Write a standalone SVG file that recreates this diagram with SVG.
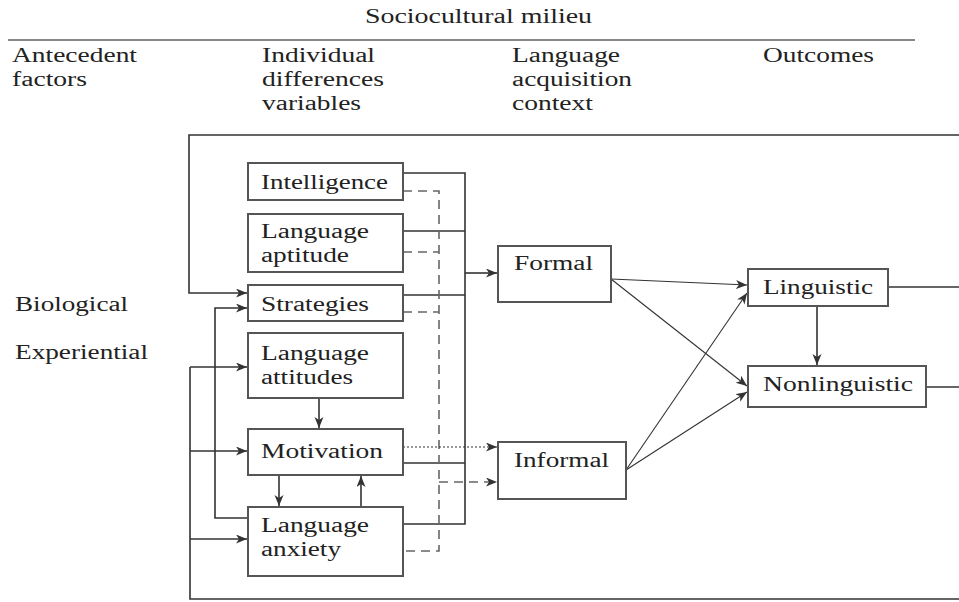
<svg xmlns="http://www.w3.org/2000/svg" width="959" height="602" viewBox="0 0 959 602">
<style>
text{font-family:"Liberation Serif","Times New Roman",serif;font-size:20px;fill:#222}
.box{fill:#fff;stroke:#555;stroke-width:2}
.ln{fill:none;stroke:#333;stroke-width:1.6}
.thin{fill:none;stroke:#333;stroke-width:1.1}
.dash{fill:none;stroke:#666;stroke-width:1.6;stroke-dasharray:9 6}
.dot{fill:none;stroke:#333;stroke-width:1.2;stroke-dasharray:2 2}
</style>
<defs>
<marker id="ah" markerUnits="userSpaceOnUse" markerWidth="12" markerHeight="10" refX="11" refY="4.5" orient="auto">
<path d="M0,0 L11,4.5 L0,9 L3,4.5 z" fill="#333"/>
</marker>
</defs>
<rect width="959" height="602" fill="#fff"/>
<g id="header">
<text x="365" y="23" textLength="227" lengthAdjust="spacingAndGlyphs">Sociocultural milieu</text>
<line x1="8" y1="40" x2="915" y2="40" stroke="#888" stroke-width="2"/>
<text x="12" y="62" textLength="125" lengthAdjust="spacingAndGlyphs">Antecedent</text>
<text x="12" y="86" textLength="75" lengthAdjust="spacingAndGlyphs">factors</text>
<text x="262" y="62" textLength="113" lengthAdjust="spacingAndGlyphs">Individual</text>
<text x="262" y="86" textLength="122" lengthAdjust="spacingAndGlyphs">differences</text>
<text x="262" y="110" textLength="99" lengthAdjust="spacingAndGlyphs">variables</text>
<text x="512" y="62" textLength="108" lengthAdjust="spacingAndGlyphs">Language</text>
<text x="512" y="86" textLength="120" lengthAdjust="spacingAndGlyphs">acquisition</text>
<text x="512" y="110" textLength="81" lengthAdjust="spacingAndGlyphs">context</text>
<text x="763" y="62" textLength="111" lengthAdjust="spacingAndGlyphs">Outcomes</text>
</g>
<g id="antecedents">
<text x="15" y="311" textLength="113" lengthAdjust="spacingAndGlyphs">Biological</text>
<text x="15" y="359" textLength="133" lengthAdjust="spacingAndGlyphs">Experiential</text>
</g>
<g id="connectors">
<!-- outer loops -->
<polyline class="ln" points="959,135 189,135 189,293 247,293" marker-end="url(#ah)"/>
<polyline class="ln" points="959,599 190,599 190,367"/>
<line class="ln" x1="190" y1="367" x2="247" y2="367" marker-end="url(#ah)"/>
<line class="ln" x1="190" y1="451" x2="247" y2="451" marker-end="url(#ah)"/>
<line class="ln" x1="190" y1="539" x2="247" y2="539" marker-end="url(#ah)"/>
<!-- anxiety to strategies -->
<polyline class="ln" points="248,518 215,518 215,308 247,308" marker-end="url(#ah)"/>
<!-- solid bus -->
<polyline class="ln" points="403,173 465,173 465,524 403,524"/>
<line class="ln" x1="403" y1="231" x2="465" y2="231"/>
<line class="ln" x1="403" y1="295" x2="465" y2="295"/>
<line class="ln" x1="403" y1="463" x2="465" y2="463"/>
<line class="ln" x1="465" y1="273" x2="497" y2="273" marker-end="url(#ah)"/>
<!-- dashed bus -->
<polyline class="dash" points="403,191 439,191 439,551 403,551"/>
<line class="dash" x1="403" y1="252" x2="439" y2="252"/>
<line class="dash" x1="403" y1="312" x2="439" y2="312"/>
<line class="dash" x1="439" y1="482" x2="497" y2="482" marker-end="url(#ah)"/>
<!-- dotted -->
<line class="dot" x1="403" y1="447" x2="497" y2="447" marker-end="url(#ah)"/>
<!-- vertical arrows among ID variables -->
<line class="ln" x1="319" y1="398" x2="319" y2="428" marker-end="url(#ah)"/>
<line class="ln" x1="279" y1="475" x2="279" y2="506" marker-end="url(#ah)"/>
<line class="ln" x1="361" y1="507" x2="361" y2="476" marker-end="url(#ah)"/>
<!-- context to outcomes -->
<line class="thin" x1="611" y1="279" x2="747" y2="285" marker-end="url(#ah)"/>
<line class="thin" x1="611" y1="279" x2="747" y2="386" marker-end="url(#ah)"/>
<line class="thin" x1="626" y1="470" x2="747" y2="293" marker-end="url(#ah)"/>
<line class="thin" x1="626" y1="470" x2="747" y2="392" marker-end="url(#ah)"/>
<line class="ln" x1="817" y1="306" x2="817" y2="365" marker-end="url(#ah)"/>
<line class="ln" x1="888" y1="287" x2="959" y2="287"/>
<line class="ln" x1="926" y1="387" x2="959" y2="387"/>
</g>
<g id="intelligence"><rect class="box" x="248" y="163" width="155" height="37"/><text x="261" y="189" textLength="127" lengthAdjust="spacingAndGlyphs">Intelligence</text></g>
<g id="aptitude"><rect class="box" x="248" y="214" width="155" height="58"/><text x="261" y="238" textLength="108" lengthAdjust="spacingAndGlyphs">Language</text><text x="261" y="262" textLength="88" lengthAdjust="spacingAndGlyphs">aptitude</text></g>
<g id="strategies"><rect class="box" x="248" y="285" width="155" height="36"/><text x="261" y="311" textLength="108" lengthAdjust="spacingAndGlyphs">Strategies</text></g>
<g id="attitudes"><rect class="box" x="248" y="333" width="155" height="65"/><text x="261" y="360" textLength="108" lengthAdjust="spacingAndGlyphs">Language</text><text x="261" y="384" textLength="92" lengthAdjust="spacingAndGlyphs">attitudes</text></g>
<g id="motivation"><rect class="box" x="248" y="429" width="155" height="46"/><text x="261" y="458" textLength="122" lengthAdjust="spacingAndGlyphs">Motivation</text></g>
<g id="anxiety"><rect class="box" x="248" y="507" width="155" height="69"/><text x="261" y="532" textLength="108" lengthAdjust="spacingAndGlyphs">Language</text><text x="261" y="556" textLength="80" lengthAdjust="spacingAndGlyphs">anxiety</text></g>
<g id="formal"><rect class="box" x="498" y="246" width="113" height="56"/><text x="514" y="270" textLength="79" lengthAdjust="spacingAndGlyphs">Formal</text></g>
<g id="informal"><rect class="box" x="498" y="442" width="128" height="57"/><text x="514" y="467" textLength="95" lengthAdjust="spacingAndGlyphs">Informal</text></g>
<g id="linguistic"><rect class="box" x="748" y="269" width="140" height="37"/><text x="763" y="294" textLength="110" lengthAdjust="spacingAndGlyphs">Linguistic</text></g>
<g id="nonlinguistic"><rect class="box" x="748" y="366" width="178" height="41"/><text x="763" y="391" textLength="150" lengthAdjust="spacingAndGlyphs">Nonlinguistic</text></g>
</svg>
